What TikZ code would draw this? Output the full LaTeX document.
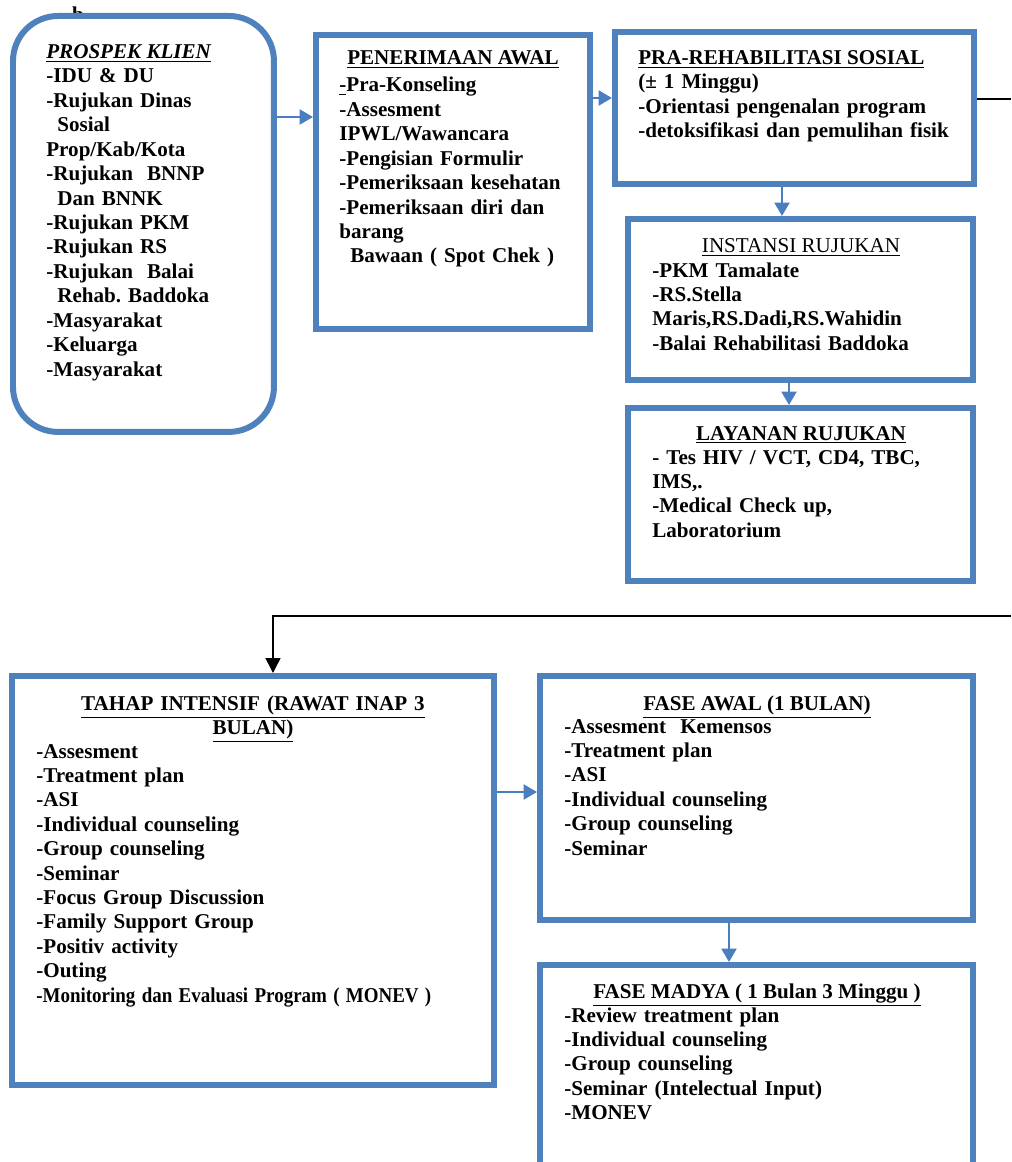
\documentclass[tikz,border=0pt]{standalone}
\usepackage{fontspec}
\usepackage{graphicx}
\setmainfont{Liberation Serif}
\usetikzlibrary{arrows.meta}
\frenchspacing

\definecolor{garis}{RGB}{79,129,189}
\definecolor{panah}{RGB}{74,126,192}

\begin{document}
\begin{tikzpicture}[x=0.02cm,y=-0.02cm,
	kotak/.style={draw=garis,line width=0.12cm,fill=white,inner sep=0pt,anchor=north west},
	isi/.style={inner sep=0pt,text width=#1,align=left,anchor=base west,
		font=\fontsize{12pt}{13.9pt}\selectfont\bfseries},
	judul/.style={inner sep=0pt,anchor=base,font=\fontsize{12pt}{13.9pt}\selectfont\bfseries},
	alir/.style={draw=panah,line width=0.052cm,-{Triangle[length=0.27cm,width=0.3cm]}},
	hitam/.style={draw=black,line width=0.03cm}]

\def\mundur{\hspace*{0.22cm}}

\useasboundingbox (0,0) rectangle (1011,1162);
\clip (0,0) rectangle (1011,1162);

% potongan huruf di tepi atas
\node[inner sep=0pt,anchor=north,font=\fontsize{12pt}{14pt}\selectfont\bfseries] (sisa) at (78,7) {b};

% kotak-kotak
\node[kotak,rounded corners=0.9cm,minimum width=5.22cm,minimum height=8.32cm] (klien) at (10,13) {};
\node[kotak,minimum width=5.48cm,minimum height=5.88cm] (terima) at (313,32) {};
\node[kotak,minimum width=7.18cm,minimum height=3.04cm] (pra) at (612,29) {};
\node[kotak,minimum width=6.9cm,minimum height=3.22cm] (instansi) at (625,216) {};
\node[kotak,minimum width=6.9cm,minimum height=3.46cm] (layanan) at (625,405) {};
\node[kotak,minimum width=9.64cm,minimum height=8.18cm] (tahap) at (9,673) {};
\node[kotak,minimum width=8.66cm,minimum height=4.88cm] (awal) at (537,673) {};
\node[kotak,minimum width=8.66cm,minimum height=4.8cm] (madya) at (537,962) {};

% PROSPEK KLIEN
\node[judul,anchor=base west,font=\fontsize{12pt}{13.9pt}\selectfont\bfseries\itshape] (klien-j) at (46,59)
	{\underline{PROSPEK KLIEN}};
\node[isi=4.6cm] (klien-t) at (46,83) {-IDU \& DU\\
-Rujukan Dinas\\
\mundur Sosial\\
Prop/Kab/Kota\\
-Rujukan\ \ BNNP\\
\mundur Dan BNNK\\
-Rujukan PKM\\
-Rujukan RS\\
-Rujukan\ \ Balai\\
\mundur Rehab. Baddoka\\
-Masyarakat\\
-Keluarga\\
-Masyarakat};

% PENERIMAAN AWAL
\node[judul] (terima-j) at (453,65) {\underline{PENERIMAAN AWAL}};
\node[isi=5cm] (terima-t) at (339,92) {\underline{-}Pra-Konseling\\
-Assesment\\
IPWL/Wawancara\\
-Pengisian Formulir\\
-Pemeriksaan kesehatan\\
-Pemeriksaan diri dan\\
barang\\
\mundur Bawaan ( Spot Chek )};

% PRA-REHABILITASI
\node[judul,anchor=base west] (pra-j) at (638,65) {\underline{PRA-REHABILITASI SOSIAL}};
\node[isi=6.8cm] (pra-t) at (638,89) {(\textpm\ 1 Minggu)\\
-Orientasi pengenalan program\\
-detoksifikasi dan pemulihan fisik};

% INSTANSI RUJUKAN
\node[judul,font=\fontsize{12pt}{13.9pt}\selectfont] (instansi-j) at (801,253) {\underline{INSTANSI RUJUKAN}};
\node[isi=6.4cm] (instansi-t) at (652,277) {-PKM Tamalate\\
-RS.Stella\\
Maris,RS.Dadi,RS.Wahidin\\
-Balai Rehabilitasi Baddoka};

% LAYANAN RUJUKAN
\node[judul] (layanan-j) at (801,440) {\underline{LAYANAN RUJUKAN}};
\node[isi=6.4cm] (layanan-t) at (652,464) {- Tes HIV / VCT, CD4, TBC,\\
IMS,.\\
-Medical Check up,\\
Laboratorium};

% TAHAP INTENSIF
\node[judul,text width=9cm,align=center] (tahap-j) at (253,710)
	{\underline{TAHAP INTENSIF (RAWAT INAP 3}\\\underline{BULAN)}};
\node[isi=9cm] (tahap-t) at (36,758) {-Assesment\\
-Treatment plan\\
-ASI\\
-Individual counseling\\
-Group counseling\\
-Seminar\\
-Focus Group Discussion\\
-Family Support Group\\
-Positiv activity\\
-Outing\\
\scalebox{0.9}[1]{-Monitoring dan Evaluasi Program ( MONEV )}};

% FASE AWAL
\node[judul] (awal-j) at (757,710) {\underline{FASE AWAL (1 BULAN)}};
\node[isi=8cm] (awal-t) at (564,733) {-Assesment\ \ Kemensos\\
-Treatment plan\\
-ASI\\
-Individual counseling\\
-Group counseling\\
-Seminar};

% FASE MADYA
\node[judul] (madya-j) at (757,998) {\underline{FASE MADYA ( 1 Bulan 3 Minggu )}};
\node[isi=8cm] (madya-t) at (564,1022) {-Review treatment plan\\
-Individual counseling\\
-Group counseling\\
-Seminar (Intelectual Input)\\
-MONEV};

% panah biru
\draw[alir] (klien.east |- 0,117) -- (terima.west |- 0,117);
\draw[alir] (terima.east |- 0,98) -- (pra.west |- 0,98);
\draw[alir] (pra.south -| 782,0) -- (instansi.north -| 782,0);
\draw[alir] (instansi.south -| 789,0) -- (layanan.north -| 789,0);
\draw[alir] (tahap.east |- 0,792) -- (awal.west |- 0,792);
\draw[alir] (awal.south -| 729,0) -- (madya.north -| 729,0);

% garis hitam
\coordinate (tepi1) at (1011,99);
\coordinate (tepi2) at (1011,616);
\coordinate (belok) at (273,616);
\draw[hitam] (pra.east |- tepi1) -- (tepi1);
\draw[hitam,-{Triangle[length=0.3cm,width=0.3cm]}] (tepi2) -- (belok) -- (belok |- tahap.north);

\end{tikzpicture}
\end{document}
